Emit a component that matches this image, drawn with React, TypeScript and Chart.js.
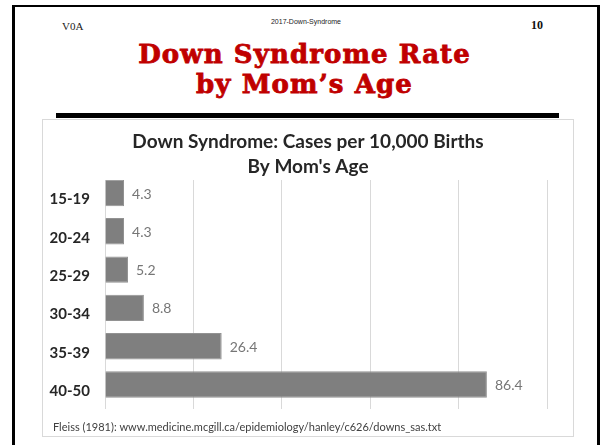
import React, { useEffect, useRef } from "react";
import { Chart, registerables } from "chart.js";

Chart.register(...registerables);

const categories = ["15-19", "20-24", "25-29", "30-34", "35-39", "40-50"];
const rates = [4.3, 4.3, 5.2, 8.8, 26.4, 86.4];
const xMax = 100;
const xStep = 20;
const chartTitle = ["Down Syndrome: Cases per 10,000 Births", "By Mom's Age"];
const footnote = "Fleiss (1981): www.medicine.mcgill.ca/epidemiology/hanley/c626/downs_sas.txt";

const valueLabels = {
  id: "valueLabels",
  afterDatasetsDraw(chart: any) {
    const ctx = chart.ctx;
    const meta = chart.getDatasetMeta(0);
    ctx.save();
    ctx.font = "14px Lato";
    ctx.fillStyle = "#767676";
    ctx.textAlign = "left";
    ctx.textBaseline = "middle";
    meta.data.forEach((bar: any, i: number) => {
      ctx.fillText(rates[i].toFixed(1), bar.x + 8, bar.y + 1);
    });
    ctx.restore();
  },
};

const footnotePlugin = {
  id: "footnote",
  afterDraw(chart: any) {
    const ctx = chart.ctx;
    ctx.save();
    ctx.font = "11px Lato";
    ctx.fillStyle = "#404040";
    ctx.textAlign = "left";
    ctx.textBaseline = "middle";
    ctx.fillText(footnote, 11, chart.chartArea.bottom + 18);
    ctx.restore();
  },
};

function BarChart() {
  const ref = useRef<HTMLCanvasElement>(null);
  useEffect(() => {
    if (!ref.current) return;
    const chart = new Chart(ref.current, {
      type: "bar",
      data: {
        datasets: [
          {
            data: rates.map((v, i) => ({ x: v, y: i })),
            backgroundColor: "#7f7f7f",
            borderColor: "#929292",
            borderWidth: 1,
            barPercentage: 0.69,
            categoryPercentage: 1,
          },
        ],
      },
      options: {
        indexAxis: "y",
        responsive: false,
        animation: false,
        devicePixelRatio: 1,
        layout: { padding: { left: 0, right: 0, top: 0, bottom: 28 } },
        scales: {
          x: {
            type: "linear",
            min: 0,
            max: xMax,
            offset: false,
            ticks: { display: false, stepSize: xStep },
            grid: { color: "#d9d9d9", drawTicks: false, lineWidth: 1, offset: false },
            border: { display: false },
          },
          y: {
            type: "linear",
            reverse: true,
            offset: false,
            min: -0.34,
            max: categories.length - 0.36,
            ticks: {
              stepSize: 1,
              includeBounds: false,
              autoSkip: false,
              labelOffset: 6.5,
              color: "#262626",
              font: { family: "Lato", size: 15, weight: "bold" },
              padding: 15,
              callback: (v: number) =>
                Number.isInteger(v) && categories[v] !== undefined ? categories[v] : "",
            },
            grid: { display: false, drawTicks: false, offset: false },
            border: { display: false },
            afterFit(scale: any) {
              scale.width = 63;
            },
          },
          yRight: {
            type: "linear",
            axis: "y",
            position: "right",
            display: true,
            offset: false,
            ticks: { display: false },
            grid: { display: false, drawTicks: false },
            border: { display: false },
            afterFit(scale: any) {
              scale.width = 27;
            },
          },
        },
        plugins: {
          legend: { display: false },
          tooltip: { enabled: false },
          title: {
            display: true,
            text: chartTitle,
            color: "#262626",
            font: { family: "Lato", size: 19, weight: "bold", lineHeight: "25px" },
            padding: { top: 10, bottom: 1 },
          },
        },
      },
      plugins: [valueLabels, footnotePlugin],
    } as any);
    return () => chart.destroy();
  }, []);
  return (
    <canvas
      ref={ref}
      width={532}
      height={318}
      style={{ position: "absolute", left: 42, top: 119, width: 532, height: 318 }}
    />
  );
}

export default function App() {
  return (
    <div
      style={{
        position: "absolute",
        left: 0,
        top: 0,
        width: 602,
        height: 445,
        overflow: "hidden",
        background: "#ffffff",
      }}
    >
      <div
        style={{
          position: "absolute",
          left: 12,
          top: 5,
          width: 588,
          height: 500,
          border: "3px solid #000",
          borderTopWidth: 2,
          boxSizing: "border-box",
        }}
      />
      <div
        style={{
          position: "absolute",
          left: 62,
          top: 19,
          fontFamily: "Liberation Serif",
          fontSize: 11,
          lineHeight: "14px",
          color: "#222",
        }}
      >
        V0A
      </div>
      <div
        style={{
          position: "absolute",
          left: 206,
          width: 200,
          top: 17,
          textAlign: "center",
          fontFamily: "Liberation Sans",
          fontSize: 7,
          lineHeight: "10px",
          color: "#222",
        }}
      >
        2017-Down-Syndrome
      </div>
      <div
        style={{
          position: "absolute",
          left: 531,
          top: 18,
          fontFamily: "Liberation Serif",
          fontWeight: "bold",
          fontSize: 12,
          lineHeight: "14px",
          color: "#111",
        }}
      >
        10
      </div>
      <div
        style={{
          position: "absolute",
          left: 0,
          width: 609,
          top: 39,
          textAlign: "center",
          fontFamily: "DejaVu Serif",
          fontWeight: "bold",
          fontSize: 26,
          lineHeight: "30px",
          letterSpacing: "1.1px",
          color: "#c00000",
          WebkitTextStroke: "0.8px #c00000",
        }}
      >
        <div>Down Syndrome Rate</div>
        <div>by Mom’s Age</div>
      </div>
      <div
        style={{
          position: "absolute",
          left: 56,
          top: 113,
          width: 503,
          height: 5,
          background: "#000",
        }}
      />
      <div
        style={{
          position: "absolute",
          left: 42,
          top: 119,
          width: 532,
          height: 318,
          border: "1px solid #d9d9d9",
          boxSizing: "border-box",
        }}
      />
      <BarChart />
    </div>
  );
}
